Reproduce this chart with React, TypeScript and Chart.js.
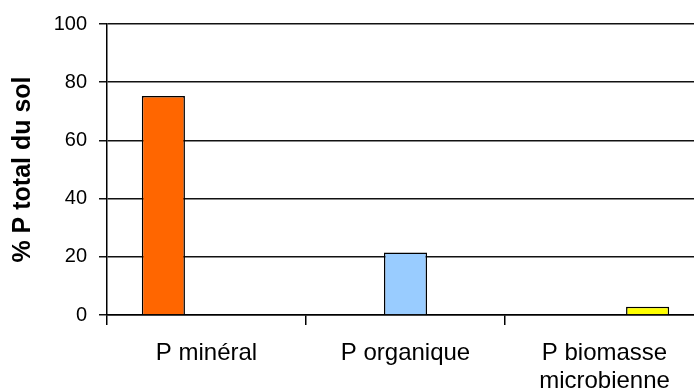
import React, { useEffect, useRef } from "react";
import { Chart, registerables } from "chart.js";

Chart.register(...registerables);

const categories: (string | string[])[] = ["P minéral", "P organique", ["P biomasse", "microbienne"]];
const seriesNames = ["P minéral", "P organique", "P biomasse microbienne"];
const mineralValues = [75.3, null, null];
const organiqueValues = [null, 21.5, null];
const biomasseValues = [null, null, 2.8];
const yTicks = [0, 20, 40, 60, 80, 100];
const yTitle = "% P total du sol";

const FONT = "'Liberation Sans', Arial, Helvetica, sans-serif";

export default function App() {
  const ref = useRef<HTMLCanvasElement | null>(null);

  useEffect(() => {
    if (!ref.current) return;
    const mk = (label: string, data: (number | null)[], color: string) => ({
      label,
      data,
      backgroundColor: color,
      borderColor: "#000",
      borderWidth: 1.5,
      borderSkipped: "bottom" as const,
      categoryPercentage: 0.65,
      barPercentage: 1.0,
    });
    const chart = new Chart(ref.current, {
      type: "bar",
      data: {
        labels: categories,
        datasets: [
          mk(seriesNames[0], mineralValues, "#FF6600"),
          mk(seriesNames[1], organiqueValues, "#99CCFF"),
          mk(seriesNames[2], biomasseValues, "#FFFF00"),
        ],
      },
      options: {
        responsive: false,
        animation: false,
        layout: { padding: { top: 12, right: 8, left: 0, bottom: 0 } },
        plugins: { legend: { display: false }, tooltip: { enabled: false } },
        scales: {
          x: {
            grid: {
              offset: true,
              drawOnChartArea: false,
              drawTicks: true,
              tickLength: 10,
              color: "#000",
              lineWidth: 1.5,
            },
            border: { display: true, color: "#000", width: 1.5 },
            ticks: {
              color: "#000",
              font: { family: FONT, size: 24, lineHeight: 1.17 },
              padding: 14,
              maxRotation: 0,
              autoSkip: false,
            },
            afterFit: (s: any) => {
              s.height = 76;
            },
          },
          y: {
            min: 0,
            max: 100,
            afterBuildTicks: (s: any) => {
              s.ticks = yTicks.map((v) => ({ value: v }));
            },
            grid: { color: "#111", lineWidth: 1.5, tickLength: 8 },
            border: { display: true, color: "#000", width: 1.5 },
            ticks: { color: "#000", font: { family: FONT, size: 20 }, padding: 12 },
            title: {
              display: true,
              text: yTitle,
              color: "#000",
              font: { family: FONT, size: 25, weight: "bold" },
              padding: { top: 8, bottom: 0 },
            },
            afterFit: (s: any) => {
              s.width = 107;
            },
          },
        },
      },
    } as any);
    return () => chart.destroy();
  }, []);

  return (
    <div style={{ position: "fixed", left: 0, top: 0, width: 694, height: 391, overflow: "hidden", background: "#fff" }}>
      <div style={{ width: 712, height: 391 }}>
        <canvas ref={ref} width={712} height={391} />
      </div>
    </div>
  );
}
